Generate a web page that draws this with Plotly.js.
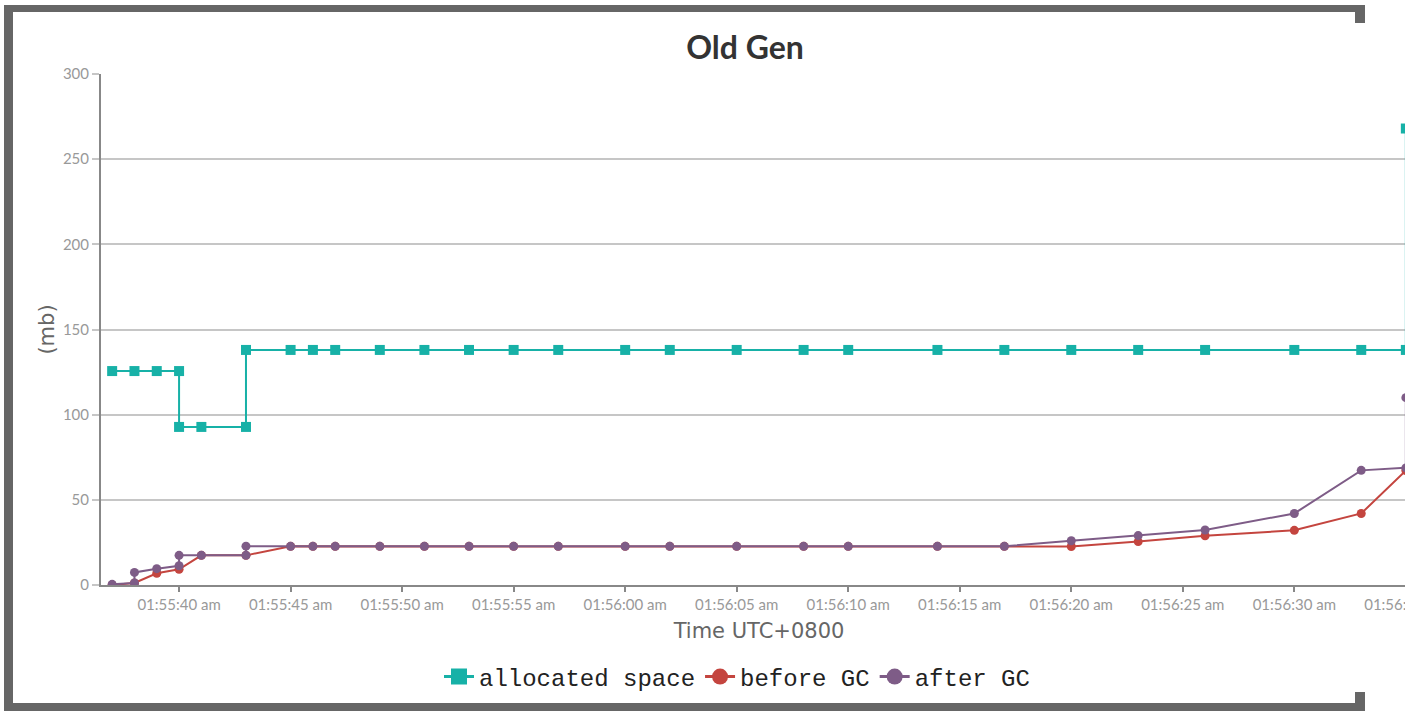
<!DOCTYPE html>
<html>
<head>
<meta charset="utf-8">
<script src="https://cdn.plot.ly/plotly-3.0.1.min.js"></script>
<style>
  html, body { margin:0; padding:0; background:#fff; width:1425px; height:712px; overflow:hidden; }
  #clip { position:absolute; left:0; top:0; width:1405px; height:712px; overflow:hidden; }
  #chart { position:absolute; left:0; top:0; width:1480px; height:712px; }
  .frame { position:absolute; background:#666; z-index:5; }
</style>
</head>
<body>
<div id="clip"><div id="chart"></div></div>
<div class="frame" style="left:4px; top:5px; width:1361px; height:7px;"></div>
<div class="frame" style="left:4px; top:5px; width:9px; height:706px;"></div>
<div class="frame" style="left:4px; top:703px; width:1361px; height:8px;"></div>
<div class="frame" style="left:1355px; top:5px; width:10px; height:18px;"></div>
<div class="frame" style="left:1355px; top:692px; width:10px; height:19px;"></div>
<script>
// ---- data (times are HH:MM:SS, UTC+0800) ----
const allocTimes = ['01:55:37','01:55:38','01:55:39','01:55:40','01:55:40','01:55:41','01:55:43','01:55:43',
  '01:55:45','01:55:46','01:55:47','01:55:49','01:55:51','01:55:53','01:55:55','01:55:57','01:56:00',
  '01:56:02','01:56:05','01:56:08','01:56:10','01:56:14','01:56:17','01:56:20','01:56:23','01:56:26',
  '01:56:30','01:56:33','01:56:35','01:56:35'];
const allocatedSpace = [125.6,125.6,125.6,125.6,92.8,92.8,92.8,138,
  138,138,138,138,138,138,138,138,138,
  138,138,138,138,138,138,138,138,138,
  138,138,138,268];

const beforeTimes = ['01:55:37','01:55:38','01:55:39','01:55:40','01:55:41','01:55:43',
  '01:55:45','01:55:46','01:55:47','01:55:49','01:55:51','01:55:53','01:55:55','01:55:57','01:56:00',
  '01:56:02','01:56:05','01:56:08','01:56:10','01:56:14','01:56:17','01:56:20','01:56:23','01:56:26',
  '01:56:30','01:56:33','01:56:35'];
const beforeGC = [0,1.2,6.9,9.2,17.4,17.4,
  22.7,22.7,22.7,22.7,22.7,22.7,22.7,22.7,22.7,
  22.7,22.7,22.7,22.7,22.7,22.7,22.6,25.5,28.9,
  32.1,42,67.2];

const afterTimes = ['01:55:37','01:55:38','01:55:38','01:55:39','01:55:40','01:55:40','01:55:41','01:55:43','01:55:43',
  '01:55:45','01:55:46','01:55:47','01:55:49','01:55:51','01:55:53','01:55:55','01:55:57','01:56:00',
  '01:56:02','01:56:05','01:56:08','01:56:10','01:56:14','01:56:17','01:56:20','01:56:23','01:56:26',
  '01:56:30','01:56:33','01:56:35','01:56:35'];
const afterGC = [0.4,1.2,7.4,9.6,11.3,17.4,17.4,17.4,22.8,
  22.7,22.7,22.7,22.7,22.7,22.7,22.7,22.7,22.7,
  22.7,22.7,22.7,22.7,22.7,22.7,26,29,32.3,
  42,67.3,68.8,110];

const tickTimes  = ['01:55:40','01:55:45','01:55:50','01:55:55','01:56:00','01:56:05','01:56:10',
  '01:56:15','01:56:20','01:56:25','01:56:30','01:56:35'];
const tickLabels = ['01:55:40 am','01:55:45 am','01:55:50 am','01:55:55 am','01:56:00 am','01:56:05 am','01:56:10 am',
  '01:56:15 am','01:56:20 am','01:56:25 am','01:56:30 am','01:56:35 am'];

const seriesNames = ['allocated space','before GC','after GC'];
const seriesColors = ['#17b1a7','#c4453f','#7e5c87'];

// ---- build ----
const day = '2020-01-01 ';
const d = arr => arr.map(t => day + t);

const traces = [
  { x: d(allocTimes), y: allocatedSpace, name: seriesNames[0], mode: 'lines+markers', showlegend: false,
    line: { color: seriesColors[0], width: 2 }, marker: { symbol: 'square', size: 10, color: seriesColors[0] } },
  { x: d(beforeTimes), y: beforeGC, name: seriesNames[1], mode: 'lines+markers', showlegend: false,
    line: { color: seriesColors[1], width: 2 }, marker: { symbol: 'circle', size: 9, color: seriesColors[1] } },
  { x: d(afterTimes), y: afterGC, name: seriesNames[2], mode: 'lines+markers', showlegend: false,
    line: { color: seriesColors[2], width: 2 }, marker: { symbol: 'circle', size: 9, color: seriesColors[2] } },
];
// legend entries with larger symbols
['square','circle','circle'].forEach((sym, i) => {
  traces.push({ x: [null], y: [null], name: seriesNames[i], mode: 'lines+markers', showlegend: true,
    line: { color: seriesColors[i], width: 3 }, marker: { symbol: sym, size: 16, color: seriesColors[i] } });
});

const layout = {
  width: 1480, height: 712,
  margin: { l: 101, r: 63, t: 74, b: 127 },
  paper_bgcolor: 'rgba(0,0,0,0)', plot_bgcolor: 'rgba(0,0,0,0)',
  title: { text: 'Old Gen', font: { family: 'Lato', size: 32, color: '#333', weight: 'bold' },
    xref: 'container', x: 745/1480, xanchor: 'center', yref: 'container', y: 1 - 48/712, yanchor: 'middle' },
  xaxis: {
    type: 'date', range: [day + '01:55:36.5', day + '01:56:35.5'],
    tickvals: d(tickTimes), ticktext: tickLabels,
    tickfont: { family: 'Lato', size: 15, color: '#999' },
    showgrid: false, zeroline: false,
    showline: true, linecolor: '#888', linewidth: 2,
    ticks: 'outside', ticklen: 5, tickwidth: 2, tickcolor: '#888',
    title: { text: 'Time UTC+0800', font: { family: 'DejaVu Sans', size: 21, color: '#666' }, standoff: 11 }
  },
  yaxis: {
    range: [0, 300], dtick: 50, tick0: 0,
    tickfont: { family: 'Lato', size: 15, color: '#999' },
    showgrid: true, gridcolor: '#c6c6c6', gridwidth: 2, zeroline: false,
    showline: true, linecolor: '#888', linewidth: 2,
    ticks: 'outside', ticklen: 7, tickwidth: 2, tickcolor: '#c6c6c6',
    title: { text: '(mb)', font: { family: 'DejaVu Sans', size: 21, color: '#666' }, standoff: 3 }
  },
  legend: {
    orientation: 'h', xref: 'container', yref: 'container',
    x: 737/1480, xanchor: 'center', y: 1 - 677/712, yanchor: 'middle',
    font: { family: 'Liberation Mono', size: 24, color: '#222' },
    itemwidth: 30
  },
  showlegend: true
};

Plotly.newPlot('chart', traces, layout, { displayModeBar: false, staticPlot: true });
</script>
</body>
</html>
